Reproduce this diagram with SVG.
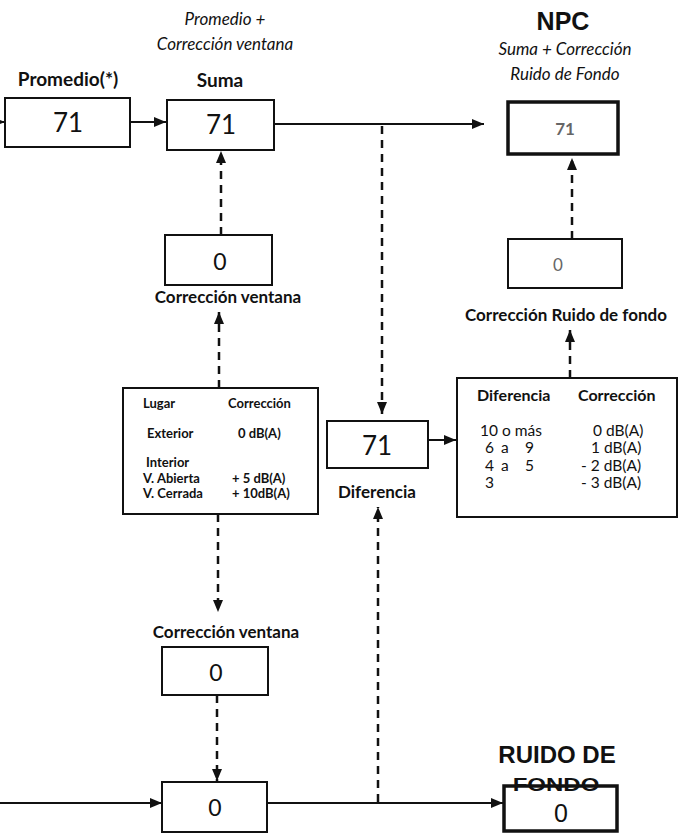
<svg xmlns="http://www.w3.org/2000/svg" width="679" height="835" viewBox="0 0 679 835">
<defs>
<marker id="ah" viewBox="0 0 12 10" refX="12" refY="5" markerWidth="12" markerHeight="10" markerUnits="userSpaceOnUse" orient="auto">
<path d="M0,0 L12,5 L0,10 Z" fill="#111"/>
</marker>
</defs>
<style>
.box{fill:#fff;stroke:#111;stroke-width:2}
.thick{fill:#fff;stroke:#111;stroke-width:3.5}
.val{font-family:Lato,"Open Sans",sans-serif;font-size:26px;fill:#111;text-anchor:middle}
.zero{font-family:Lato,"Open Sans",sans-serif;font-size:23px;fill:#111;text-anchor:middle}
.gray{font-family:Lato,"Open Sans",sans-serif;font-size:17px;font-weight:bold;fill:#666;text-anchor:middle}
.lbl{font-family:Lato,"Open Sans",sans-serif;font-size:17px;font-weight:bold;fill:#111;text-anchor:middle}
.head{font-family:Lato,"Open Sans",sans-serif;font-size:19px;font-weight:bold;fill:#111;text-anchor:middle}
.it{font-family:Lato,"Open Sans",sans-serif;font-size:17px;font-style:italic;fill:#111;text-anchor:middle}
.tb{font-family:Lato,"Open Sans",sans-serif;font-size:13px;font-weight:bold;fill:#111}
.tr{font-family:Lato,"Open Sans",sans-serif;font-size:15.5px;fill:#111}
.trb{font-family:Lato,"Open Sans",sans-serif;font-size:16px;font-weight:bold;fill:#111}
.npc{font-family:"Liberation Sans",Arial,sans-serif;font-size:25px;font-weight:bold;fill:#111;text-anchor:middle}
.rf{font-family:"Liberation Sans",Arial,sans-serif;font-size:24px;font-weight:bold;fill:#111;text-anchor:middle}
.rf0{font-family:"Liberation Sans",Arial,sans-serif;font-size:25px;fill:#111;text-anchor:middle}
.solid{fill:none;stroke:#111;stroke-width:2}
.dash{fill:none;stroke:#111;stroke-width:2.5;stroke-dasharray:8 6}
</style>
<rect width="679" height="835" fill="#fff"/>
<g id="connectors">
<line class="solid" x1="-10" y1="122" x2="5" y2="122" marker-end="url(#ah)"/>
<line class="solid" x1="130" y1="122" x2="166" y2="122" marker-end="url(#ah)"/>
<line class="solid" x1="274" y1="124" x2="484" y2="124" marker-end="url(#ah)"/>
<line class="dash" x1="382" y1="126" x2="382" y2="414" marker-end="url(#ah)"/>
<line class="solid" x1="428" y1="440" x2="456" y2="440" marker-end="url(#ah)"/>
<line class="dash" x1="570" y1="378" x2="570" y2="330" marker-end="url(#ah)"/>
<line class="dash" x1="572" y1="239" x2="572" y2="158" marker-end="url(#ah)"/>
<line class="dash" x1="221" y1="235" x2="221" y2="151" marker-end="url(#ah)"/>
<line class="dash" x1="219" y1="388" x2="219" y2="312" marker-end="url(#ah)"/>
<line class="dash" x1="218" y1="514" x2="218" y2="612" marker-end="url(#ah)"/>
<line class="dash" x1="217" y1="695" x2="217" y2="781" marker-end="url(#ah)"/>
<line class="solid" x1="0" y1="803" x2="162" y2="803" marker-end="url(#ah)"/>
<line class="solid" x1="267" y1="803" x2="503" y2="803" marker-end="url(#ah)"/>
<line class="dash" x1="378" y1="802" x2="378" y2="507" marker-end="url(#ah)"/>
</g>
<g id="titles">
<text class="it" x="225" y="25">Promedio +</text>
<text class="it" x="225" y="50">Corrección ventana</text>
<text class="npc" x="563" y="30">NPC</text>
<text class="it" x="565" y="55">Suma + Corrección</text>
<text class="it" x="565" y="80">Ruido de Fondo</text>
</g>
<g id="promedio">
<text class="head" x="68" y="86">Promedio(*)</text>
<rect class="box" x="5" y="98" width="125" height="49"/>
<text class="val" x="68" y="132">71</text>
</g>
<g id="suma">
<text class="head" x="220" y="87">Suma</text>
<rect class="box" x="167" y="100" width="107" height="50"/>
<text class="val" x="221" y="134">71</text>
</g>
<g id="npc">
<rect class="thick" x="508" y="102" width="110" height="52"/>
<text class="gray" x="565" y="135">71</text>
</g>
<g id="correccion-ruido">
<rect class="box" x="508" y="239" width="114" height="49"/>
<text class="gray" x="558" y="271" style="font-weight:normal">0</text>
<text class="lbl" x="566" y="321">Corrección Ruido de fondo</text>
</g>
<g id="correccion-ventana-top">
<rect class="box" x="165" y="235" width="107" height="50"/>
<text class="zero" x="220" y="270">0</text>
<text class="lbl" x="228" y="303">Corrección ventana</text>
</g>
<g id="tabla-lugar">
<rect class="box" x="123" y="388" width="195" height="126"/>
<text class="tb" x="143" y="408">Lugar</text>
<text class="tb" x="228" y="408">Corrección</text>
<text class="tb" x="147" y="438">Exterior</text>
<text class="tb" x="238" y="438">0 dB(A)</text>
<text class="tb" x="146" y="467">Interior</text>
<text class="tb" x="143" y="483">V. Abierta</text>
<text class="tb" x="232" y="483">+ 5 dB(A)</text>
<text class="tb" x="143" y="498">V. Cerrada</text>
<text class="tb" x="232" y="498">+ 10dB(A)</text>
</g>
<g id="diferencia">
<rect class="box" x="327" y="421" width="101" height="47"/>
<text class="val" x="377" y="455">71</text>
<text class="lbl" x="377" y="498">Diferencia</text>
</g>
<g id="tabla-diferencia">
<rect class="box" x="457" y="378" width="220" height="139"/>
<text class="trb" x="477" y="401">Diferencia</text>
<text class="trb" x="578" y="401">Corrección</text>
<text class="tr" x="480" y="436">10 o más</text>
<text class="tr" x="593" y="436">0 dB(A)</text>
<text class="tr" y="453"><tspan x="485">6</tspan><tspan x="501">a</tspan><tspan x="525">9</tspan></text>
<text class="tr" x="591" y="453">1 dB(A)</text>
<text class="tr" y="471"><tspan x="485">4</tspan><tspan x="501">a</tspan><tspan x="525">5</tspan></text>
<text class="tr" x="581" y="471">- 2 dB(A)</text>
<text class="tr" x="485" y="488">3</text>
<text class="tr" x="581" y="488">- 3 dB(A)</text>
</g>
<g id="correccion-ventana-bottom">
<text class="lbl" x="226" y="638">Corrección ventana</text>
<rect class="box" x="162" y="647" width="106" height="48"/>
<text class="zero" x="216" y="681">0</text>
</g>
<g id="entrada-ruido">
<rect class="box" x="162" y="782" width="105" height="50"/>
<text class="zero" x="215" y="816">0</text>
</g>
<g id="ruido-de-fondo">
<text class="rf" x="557" y="763">RUIDO DE</text>
<rect class="thick" x="504" y="786" width="113" height="45"/>
<text class="rf" transform="translate(556,791) scale(1,0.75)" x="0" y="0">FONDO</text>
<text class="rf0" x="561" y="822">0</text>
</g>
</svg>
